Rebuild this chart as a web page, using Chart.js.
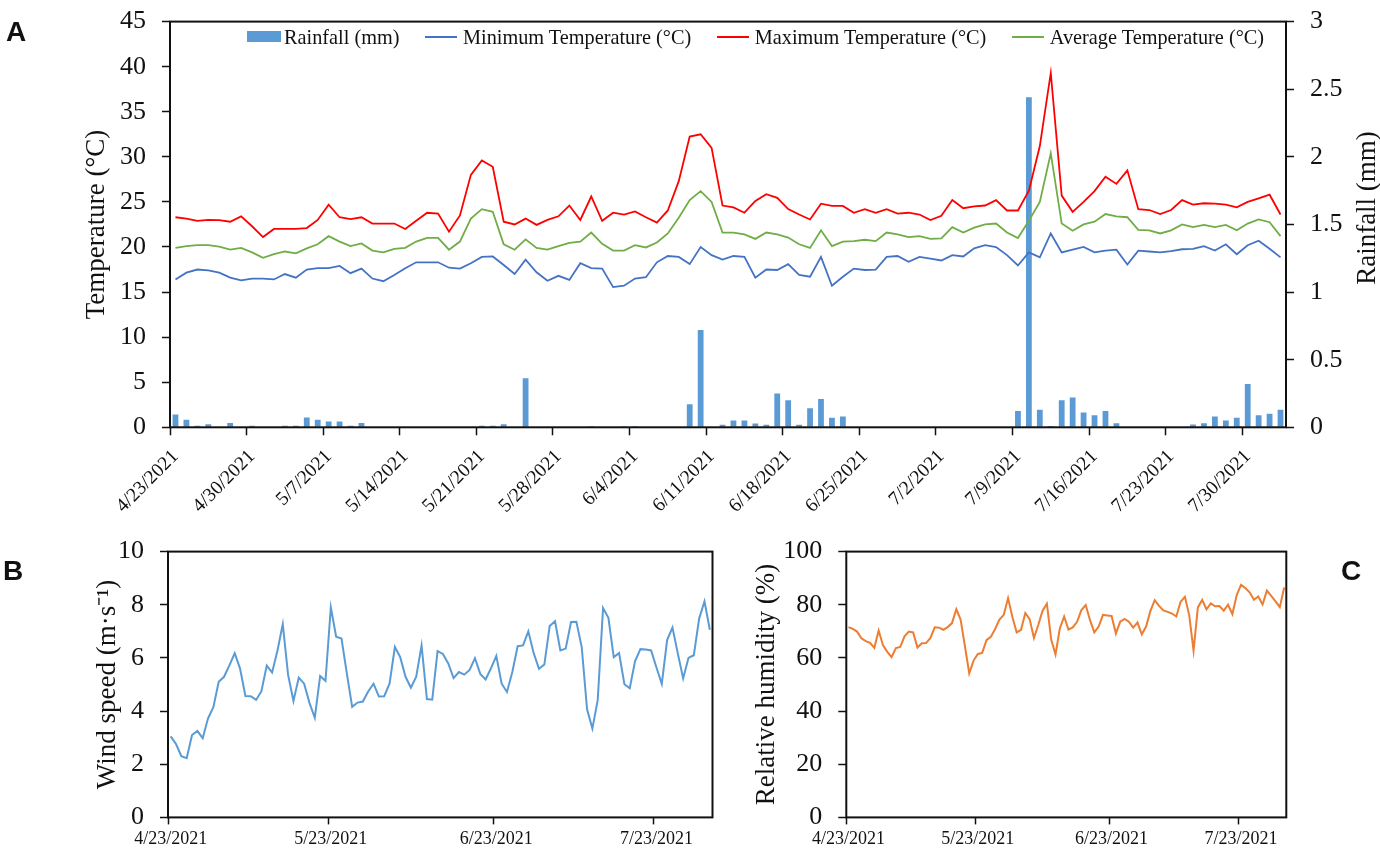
<!DOCTYPE html>
<html>
<head>
<meta charset="utf-8">
<title>Weather during the trial</title>
<script src="https://cdn.jsdelivr.net/npm/chart.js@4.4.1/dist/chart.umd.min.js"></script>
<style>
  body { margin: 0; background: #fff; }
  #page { position: relative; width: 1380px; height: 849px; overflow: hidden; color: #111;
          font-family: 'Liberation Serif', 'Times New Roman', serif; }
  canvas { position: absolute; }
  #chartA { left: 0; top: -10px; }
  #chartB { left: 0; top: 520px; }
  #chartC { left: 730px; top: 520px; }
  .panel { position: absolute; font-family: 'Liberation Sans', Arial, sans-serif;
           font-weight: bold; font-size: 28px; line-height: 28px; }
  #legendA { position: absolute; left: 247px; top: 24.5px; display: flex; gap: 25.5px;
             font-size: 20.3px; line-height: 24px; white-space: nowrap; }
  .item { display: flex; align-items: center; }
</style>
</head>
<body>
<div id="page">
  <canvas id="chartA" width="1380" height="525"></canvas>
  <canvas id="chartB" width="730" height="329"></canvas>
  <canvas id="chartC" width="650" height="329"></canvas>
  <div id="legendA"></div>
  <div class="panel" style="left:6px;top:18px">A</div>
  <div class="panel" style="left:3px;top:557px">B</div>
  <div class="panel" style="left:1341px;top:557px">C</div>
</div>
<script>
const dates = [
    '4/23/2021', '4/24/2021', '4/25/2021', '4/26/2021', '4/27/2021', '4/28/2021', '4/29/2021', '4/30/2021',
    '5/1/2021', '5/2/2021', '5/3/2021', '5/4/2021', '5/5/2021', '5/6/2021', '5/7/2021', '5/8/2021',
    '5/9/2021', '5/10/2021', '5/11/2021', '5/12/2021', '5/13/2021', '5/14/2021', '5/15/2021', '5/16/2021',
    '5/17/2021', '5/18/2021', '5/19/2021', '5/20/2021', '5/21/2021', '5/22/2021', '5/23/2021', '5/24/2021',
    '5/25/2021', '5/26/2021', '5/27/2021', '5/28/2021', '5/29/2021', '5/30/2021', '5/31/2021',
    '6/1/2021', '6/2/2021', '6/3/2021', '6/4/2021', '6/5/2021', '6/6/2021', '6/7/2021', '6/8/2021',
    '6/9/2021', '6/10/2021', '6/11/2021', '6/12/2021', '6/13/2021', '6/14/2021', '6/15/2021', '6/16/2021',
    '6/17/2021', '6/18/2021', '6/19/2021', '6/20/2021', '6/21/2021', '6/22/2021', '6/23/2021', '6/24/2021',
    '6/25/2021', '6/26/2021', '6/27/2021', '6/28/2021', '6/29/2021', '6/30/2021',
    '7/1/2021', '7/2/2021', '7/3/2021', '7/4/2021', '7/5/2021', '7/6/2021', '7/7/2021', '7/8/2021',
    '7/9/2021', '7/10/2021', '7/11/2021', '7/12/2021', '7/13/2021', '7/14/2021', '7/15/2021', '7/16/2021',
    '7/17/2021', '7/18/2021', '7/19/2021', '7/20/2021', '7/21/2021', '7/22/2021', '7/23/2021', '7/24/2021',
    '7/25/2021', '7/26/2021', '7/27/2021', '7/28/2021', '7/29/2021', '7/30/2021', '7/31/2021',
    '8/1/2021', '8/2/2021'
]

// rainfall, read on the right axis (mm)
const rainfall = [
    0.094, 0.055, 0.012, 0.022, 0, 0.031, 0, 0.012, 0, 0,
    0.012, 0.012, 0.072, 0.055, 0.043, 0.043, 0.012, 0.031, 0, 0,
    0, 0, 0, 0, 0, 0, 0, 0, 0.012, 0.012,
    0.022, 0, 0.362, 0, 0, 0, 0, 0, 0.007, 0,
    0, 0.007, 0.007, 0, 0, 0, 0, 0.17, 0.72, 0,
    0.019, 0.05, 0.05, 0.029, 0.019, 0.25, 0.2, 0.019, 0.14, 0.21,
    0.07, 0.08, 0, 0, 0, 0, 0, 0, 0, 0,
    0, 0, 0, 0, 0, 0, 0, 0.12, 2.44, 0.13,
    0.01, 0.2, 0.22, 0.11, 0.09, 0.12, 0.03, 0, 0, 0,
    0, 0, 0, 0.02, 0.03, 0.08, 0.05, 0.07, 0.32, 0.09,
    0.1, 0.13
]

const minTemp = [
    16.4, 17.15, 17.5, 17.4, 17.15, 16.6, 16.3, 16.5, 16.5, 16.4,
    17.0, 16.6, 17.5, 17.65, 17.65, 17.9, 17.1, 17.6, 16.5, 16.2,
    16.9, 17.65, 18.3, 18.3, 18.3, 17.7, 17.6, 18.2, 18.9, 18.95,
    18.0, 17.0, 18.6, 17.2, 16.25, 16.8, 16.35, 18.2, 17.65, 17.6,
    15.55, 15.7, 16.5, 16.65, 18.3, 19.0, 18.9, 18.1, 20.0, 19.1,
    18.6, 19.0, 18.9, 16.6, 17.5, 17.45, 18.1, 16.9, 16.7, 18.9,
    15.7, 16.7, 17.6, 17.45, 17.5, 18.9, 19.0, 18.35, 18.9, 18.7,
    18.5, 19.1, 18.95, 19.85, 20.2, 20.0, 19.1, 17.95, 19.4, 18.85,
    21.5, 19.4, 19.7, 20.0, 19.4, 19.6, 19.7, 18.05, 19.6, 19.5,
    19.4, 19.55, 19.75, 19.8, 20.1, 19.6, 20.3, 19.2, 20.2, 20.7,
    19.8, 18.85
]

const maxTemp = [
    23.3, 23.15, 22.9, 23.0, 22.98, 22.8, 23.4, 22.3, 21.1, 22.0,
    22.0, 22.0, 22.1, 23.0, 24.7, 23.3, 23.1, 23.3, 22.6, 22.6,
    22.6, 22.0, 22.9, 23.8, 23.7, 21.7, 23.5, 28.0, 29.6, 28.9,
    22.8, 22.5, 23.15, 22.45, 23.0, 23.4, 24.6, 23.0, 25.6, 22.9,
    23.8, 23.6, 23.95, 23.3, 22.7, 24.05, 27.3, 32.25, 32.5, 31.0,
    24.6, 24.4, 23.8, 25.1, 25.85, 25.45, 24.2, 23.6, 23.05, 24.8,
    24.55, 24.55, 23.8, 24.2, 23.8, 24.2, 23.7, 23.8, 23.6, 22.98,
    23.45, 25.2, 24.3, 24.5, 24.6, 25.2, 24.05, 24.05, 26.25, 31.2,
    39.3, 25.7, 23.9, 25.0, 26.2, 27.8, 27.0, 28.5, 24.2, 24.1,
    23.65, 24.1, 25.2, 24.7, 24.85, 24.8, 24.7, 24.4, 25.0, 25.4,
    25.8, 23.6
]

const avgTemp = [
    19.9, 20.1, 20.2, 20.2, 20.05, 19.7, 19.9, 19.4, 18.8, 19.2,
    19.5, 19.3, 19.85, 20.3, 21.2, 20.6, 20.1, 20.4, 19.6, 19.4,
    19.8, 19.9, 20.6, 21.0, 21.0, 19.7, 20.6, 23.15, 24.2, 23.9,
    20.3, 19.7, 20.85, 19.9, 19.7, 20.1, 20.45, 20.6, 21.6, 20.35,
    19.6, 19.6, 20.2, 19.95, 20.5, 21.5, 23.25, 25.2, 26.2, 25.0,
    21.6, 21.6, 21.4, 20.9, 21.6, 21.4, 21.05, 20.3, 19.9, 21.85,
    20.1, 20.6, 20.65, 20.8, 20.65, 21.6, 21.4, 21.1, 21.2, 20.9,
    20.95, 22.2, 21.6, 22.15, 22.5, 22.6, 21.6, 21.0, 22.9, 25.0,
    30.4, 22.6, 21.8, 22.5, 22.8, 23.65, 23.4, 23.3, 21.9, 21.85,
    21.5, 21.85, 22.5, 22.2, 22.45, 22.2, 22.45, 21.85, 22.6, 23.05,
    22.75, 21.2
]

const windSpeed = [
    3.05, 2.76, 2.3, 2.23, 3.1, 3.25, 2.98, 3.73, 4.15, 5.1,
    5.29, 5.72, 6.18, 5.6, 4.57, 4.56, 4.42, 4.75, 5.71, 5.45,
    6.27, 7.27, 5.36, 4.38, 5.26, 5.03, 4.31, 3.75, 5.32, 5.14,
    7.9, 6.8, 6.73, 5.42, 4.16, 4.32, 4.36, 4.74, 5.03, 4.55,
    4.56, 5.03, 6.41, 6.03, 5.29, 4.88, 5.29, 6.47, 4.45, 4.43,
    6.26, 6.15, 5.79, 5.24, 5.47, 5.37, 5.55, 5.99, 5.4, 5.19,
    5.61, 6.08, 5.03, 4.72, 5.47, 6.44, 6.47, 7.0, 6.18, 5.59,
    5.75, 7.2, 7.38, 6.28, 6.35, 7.35, 7.36, 6.41, 4.07, 3.34,
    4.42, 7.88, 7.51, 6.03, 6.18, 5.01, 4.86, 5.88, 6.33, 6.32,
    6.28, 5.64, 5.02, 6.67, 7.14, 6.17, 5.23, 6.0, 6.1, 7.48,
    8.13, 7.06
]

const humidity = [
    71.6, 70.9, 69.9, 67.4, 66.3, 65.7, 63.8, 70.3, 64.8, 62.3,
    60.3, 63.7, 64.1, 68.1, 69.9, 69.6, 63.9, 65.5, 65.6, 67.5,
    71.5, 71.4, 70.6, 71.6, 73.1, 78.3, 74.4, 64.4, 54.2, 59.0,
    61.5, 61.9, 66.7, 67.9, 70.9, 74.4, 76.2, 82.5, 75.4, 69.6,
    70.6, 76.9, 74.6, 67.5, 72.4, 77.8, 80.4, 66.9, 61.3, 71.1,
    75.6, 70.7, 71.5, 73.6, 78.0, 79.9, 74.2, 69.6, 71.8, 76.2,
    76.0, 75.8, 69.2, 73.6, 74.7, 73.6, 71.4, 73.3, 68.9, 71.8,
    77.7, 81.7, 79.6, 77.9, 77.3, 76.7, 75.6, 81.1, 83.0, 76.0,
    62.7, 79.0, 81.8, 78.3, 80.5, 79.4, 79.5, 77.8, 80.0, 76.5,
    83.6, 87.5, 86.3, 84.7, 81.9, 83.1, 80.1, 85.3, 83.3, 81.3,
    79.1, 86.5
]

const weeklyTicks = ['4/23/2021', '4/30/2021', '5/7/2021', '5/14/2021', '5/21/2021', '5/28/2021', '6/4/2021',
    '6/11/2021', '6/18/2021', '6/25/2021', '7/2/2021', '7/9/2021', '7/16/2021', '7/23/2021', '7/30/2021']
const monthlyTicks = ['4/23/2021', '5/23/2021', '6/23/2021', '7/23/2021']

const ink = '#111111'
const serif = "'Liberation Serif', 'Times New Roman', serif"

Chart.defaults.font.family = serif
Chart.defaults.color = ink
Chart.defaults.animation = false

const boxPlugin = {
    id: 'box',
    afterDatasetsDraw(chart) {
        const { ctx, chartArea: a } = chart
        ctx.save()
        ctx.strokeStyle = ink
        ctx.lineWidth = 2
        ctx.strokeRect(a.left, a.top, a.right - a.left, a.bottom - a.top)
        ctx.restore()
    }
}

// right-hand title reads bottom to top, like the left one
const rainTitle = {
    id: 'rainTitle',
    afterDraw(chart) {
        const ctx = chart.ctx
        ctx.save()
        ctx.translate(1368, 218)
        ctx.rotate(-Math.PI / 2)
        ctx.font = `27px ${serif}`
        ctx.fillStyle = ink
        ctx.textAlign = 'center'
        ctx.textBaseline = 'middle'
        ctx.fillText('Rainfall (mm)', 0, 0)
        ctx.restore()
    }
}

function valueAxis(position, min, max, step, width, title, titleGap) {
    return {
        position, min, max,
        ticks: { stepSize: step, padding: 16, font: { size: 26 }, callback: v => String(v) },
        grid: { drawOnChartArea: false, tickLength: 8, tickColor: ink, tickWidth: 1.5 },
        border: { display: false },
        title: title
            ? { display: true, text: title, font: { size: 27 }, padding: { top: titleGap, bottom: 0 } }
            : { display: false },
        afterFit: scale => { scale.width = width }
    }
}

function dateAxis(shown, height, tickLength, rotation, padding, size) {
    const isShown = i => shown.includes(dates[i])
    return {
        offset: true,
        grid: {
            offset: true, drawOnChartArea: false, tickLength, tickWidth: 1.5,
            tickColor: c => isShown(c.index) ? ink : 'rgba(0,0,0,0)'
        },
        border: { display: false },
        ticks: {
            autoSkip: false, maxRotation: rotation, minRotation: rotation, padding,
            font: { size },
            callback: (value, i) => isShown(i) ? dates[i] : ''
        },
        afterFit: scale => { scale.height = height }
    }
}

const noChrome = { legend: { display: false }, tooltip: { enabled: false } }

const line = (label, data, color, width) => ({
    type: 'line', label, data, borderColor: color, backgroundColor: color,
    borderWidth: width, pointRadius: 0, tension: 0
})

const chartA = new Chart(document.getElementById('chartA'), {
    type: 'bar',
    data: {
        labels: dates,
        datasets: [
            { type: 'bar', label: 'Rainfall (mm)', data: rainfall, yAxisID: 'rain',
              backgroundColor: '#5b9bd5', barPercentage: 0.53, categoryPercentage: 1, order: 2 },
            { ...line('Minimum Temperature (°C)', minTemp, '#4472c4', 1.8), yAxisID: 'temp', order: 1 },
            { ...line('Maximum Temperature (°C)', maxTemp, '#ff0000', 1.8), yAxisID: 'temp', order: 1 },
            { ...line('Average Temperature (°C)', avgTemp, '#70ad47', 1.8), yAxisID: 'temp', order: 1 }
        ]
    },
    options: {
        responsive: false,
        layout: { padding: { top: 20.3, left: 0, right: 0, bottom: 0 } },
        plugins: noChrome,
        scales: {
            x: dateAxis(weeklyTicks, 87.7, 8, 45, 10, 19.5),
            temp: valueAxis('left', 0, 45, 5, 170, 'Temperature (°C)', 81),
            rain: valueAxis('right', 0, 3, 0.5, 94, null, 0)
        }
    },
    plugins: [boxPlugin, rainTitle]
})

new Chart(document.getElementById('chartB'), {
    type: 'line',
    data: { labels: dates, datasets: [line('Wind speed', windSpeed, '#5b9bd5', 2)] },
    options: {
        responsive: false,
        layout: { padding: { top: 22.3, left: 0, right: 17.5, bottom: 0 } },
        plugins: noChrome,
        scales: {
            x: dateAxis(monthlyTicks, 31.3, 7, 0, 4, 18),
            y: valueAxis('left', 0, 10, 2, 168, 'Wind speed (m·s⁻¹)', 92)
        }
    },
    plugins: [boxPlugin]
})

new Chart(document.getElementById('chartC'), {
    type: 'line',
    data: { labels: dates, datasets: [line('Relative humidity', humidity, '#ed7d31', 2)] },
    options: {
        responsive: false,
        layout: { padding: { top: 22.3, left: 0, right: 93.7, bottom: 0 } },
        plugins: noChrome,
        scales: {
            x: dateAxis(monthlyTicks, 31.3, 7, 0, 4, 18),
            y: valueAxis('left', 0, 100, 20, 116.3, 'Relative humidity (%)', 21)
        }
    },
    plugins: [boxPlugin]
})

// legend sits inside the plot of panel A
const legend = document.getElementById('legendA')
chartA.data.datasets.forEach(ds => {
    const item = document.createElement('div')
    item.className = 'item'
    const swatch = document.createElement('span')
    if (ds.type === 'bar') {
        swatch.style.cssText = `width:34px;height:11px;margin-right:3px;background:${ds.backgroundColor}`
    } else {
        swatch.style.cssText = `width:32px;height:0;margin-right:6px;border-top:2px solid ${ds.borderColor}`
    }
    const text = document.createElement('span')
    text.textContent = ds.label
    item.appendChild(swatch)
    item.appendChild(text)
    legend.appendChild(item)
})
</script>
</body>
</html>
